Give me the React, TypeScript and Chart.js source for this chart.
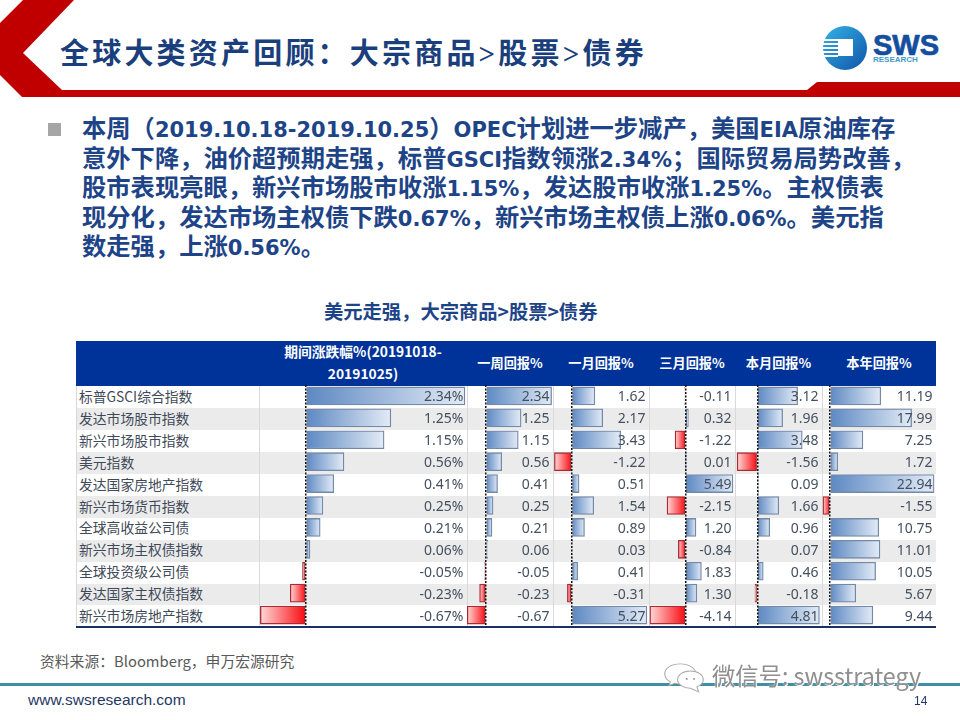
import React, { useEffect, useRef } from 'react';
import { Chart, registerables } from 'chart.js';

Chart.register(...registerables);

const categories = [
  '标普GSCI综合指数', '发达市场股市指数', '新兴市场股市指数', '美元指数', '发达国家房地产指数', '新兴市场货币指数',
  '全球高收益公司债', '新兴市场主权债指数', '全球投资级公司债', '发达国家主权债指数', '新兴市场房地产指数',
];
const periodChange = [2.34, 1.25, 1.15, 0.56, 0.41, 0.25, 0.21, 0.06, -0.05, -0.23, -0.67];
const weekReturn = [2.34, 1.25, 1.15, 0.56, 0.41, 0.25, 0.21, 0.06, -0.05, -0.23, -0.67];
const monthReturn = [1.62, 2.17, 3.43, -1.22, 0.51, 1.54, 0.89, 0.03, 0.41, -0.31, 5.27];
const threeMonthReturn = [-0.11, 0.32, -1.22, 0.01, 5.49, -2.15, 1.2, -0.84, 1.83, 1.3, -4.14];
const thisMonthReturn = [3.12, 1.96, 3.48, -1.56, 0.09, 1.66, 0.96, 0.07, 0.46, -0.18, 4.81];
const thisYearReturn = [11.19, 17.99, 7.25, 1.72, 22.94, -1.55, 10.75, 11.01, 10.05, 5.67, 9.44];

const bodyLines = [
  '本周（2019.10.18-2019.10.25）OPEC计划进一步减产，美国EIA原油库存',
  '意外下降，油价超预期走强，标普GSCI指数领涨2.34%；国际贸易局势改善，',
  '股市表现亮眼，新兴市场股市收涨1.15%，发达股市收涨1.25%。主权债表',
  '现分化，发达市场主权债下跌0.67%，新兴市场主权债上涨0.06%。美元指',
  '数走强，上涨0.56%。',
];

const NAVY = '#1E4488';
const CJK = '"Noto Sans CJK SC", sans-serif';
const TABLE_TOP = 386;
const ROW_H = 21.95;

// left/right = cell edges in px, min/max = axis range so the zero line lands where it does in the slide
const columns = [
  { title: ['期间涨跌幅%(20191018-', '20191025)'], values: periodChange, left: 259, right: 467, min: -0.69, max: 2.37, suffix: '%' },
  { title: ['一周回报%'], values: weekReturn, left: 467, right: 553, min: -0.68, max: 2.39, suffix: '' },
  { title: ['一月回报%'], values: monthReturn, left: 553, right: 649, min: -1.32, max: 5.42, suffix: '' },
  { title: ['三月回报%'], values: threeMonthReturn, left: 649, right: 735, min: -4.24, max: 5.72, suffix: '' },
  { title: ['本月回报%'], values: thisMonthReturn, left: 735, right: 822, min: -1.73, max: 5.01, suffix: '' },
  { title: ['本年回报%'], values: thisYearReturn, left: 822, right: 936, min: -1.76, max: 23.36, suffix: '' },
];

const barFill = (c: any) => {
  const scale = c.chart.scales.x;
  const v = c.raw;
  if (!scale || typeof v !== 'number') return '#6F94C8';
  const x0 = scale.getPixelForValue(0);
  const x1 = scale.getPixelForValue(v);
  // first pass runs before the scale has a size
  if (!Number.isFinite(x0) || !Number.isFinite(x1)) return '#6F94C8';
  const g = c.chart.ctx.createLinearGradient(x0, 0, x1, 0);
  if (v >= 0) {
    g.addColorStop(0, '#5C88C2');
    g.addColorStop(1, '#E3EBF6');
  } else {
    g.addColorStop(0, '#F80A0F');
    g.addColorStop(1, '#FFD8D8');
  }
  return g;
};

const DataBars: React.FC<{ values: number[]; left: number; right: number; min: number; max: number }> = ({ values, left, right, min, max }) => {
  const ref = useRef<HTMLCanvasElement>(null);

  useEffect(() => {
    if (!ref.current) return;
    const chart = new Chart(ref.current, {
      type: 'bar',
      data: {
        labels: categories,
        datasets: [
          {
            data: values,
            backgroundColor: barFill,
            borderColor: (c: any) => (c.raw < 0 ? '#A92A33' : '#7389A8'),
            borderWidth: 1.3,
            borderSkipped: false,
            barThickness: 18,
          },
        ],
      },
      options: {
        indexAxis: 'y',
        responsive: false,
        animation: false,
        layout: { padding: 0 },
        plugins: { legend: { display: false }, tooltip: { enabled: false } },
        scales: {
          y: { display: false },
          x: {
            min,
            max,
            afterBuildTicks: (axis: any) => {
              axis.ticks = [{ value: 0 }];
            },
            ticks: { display: false },
            border: { display: false, dash: [2, 1.5] },
            grid: { color: '#111111', lineWidth: 1.5, drawTicks: false, z: 1 },
          },
        },
      },
    });
    return () => chart.destroy();
  }, []);

  return (
    <canvas
      ref={ref}
      width={right - left}
      height={Math.round(ROW_H * categories.length)}
      style={{ position: 'absolute', left, top: TABLE_TOP - 1, display: 'block' }}
    />
  );
};

const text = (left: number, top: number, style: React.CSSProperties = {}): React.CSSProperties => ({
  position: 'absolute',
  left,
  top,
  whiteSpace: 'nowrap',
  ...style,
});

const Logo = () => (
  <svg width="960" height="100" style={{ position: 'absolute', left: 0, top: 0 }}>
    <defs>
      <linearGradient id="disc" x1="0" y1="0" x2="1" y2="1">
        <stop offset="0" stopColor="#35B2E6" />
        <stop offset="1" stopColor="#0F55A8" />
      </linearGradient>
    </defs>
    <polygon points="0,23 23,0 74,0 23,53 62,90 807,90 817,82 960,82 960,97 22,97 0,75" fill="#C00000" />
    <circle cx="845" cy="48" r="22" fill="url(#disc)" />
    <rect x="838" y="39" width="15" height="17" fill="#FFFFFF" />
    {[39, 43, 47, 51, 55].map((y) => (
      <rect key={y} x="823" y={y} width="15" height="2" fill="#FFFFFF" />
    ))}
  </svg>
);

const WeChatIcon = () => (
  <svg width="44" height="33" viewBox="0 0 48 46" preserveAspectRatio="none" style={{ position: 'absolute', left: 662, top: 661 }}>
    <path d="M20 4 C9 4 3 11 3 18 C3 23 6 27 9 29 L8 34 L14 31 C16 32 18 32 20 32 C30 32 37 25 37 18 C37 11 30 4 20 4 Z" fill="#FFFFFF" stroke="#AAAAAA" strokeWidth="1.2" />
    <path d="M31 14 C22 14 17 20 17 26 C17 32 23 38 31 38 L40 43 L38 36 C42 34 45 30 45 26 C45 20 40 14 31 14 Z" fill="#FFFFFF" stroke="#AAAAAA" strokeWidth="1.2" />
    <circle cx="27" cy="25" r="1.2" fill="#999999" />
    <circle cx="35" cy="25" r="1.2" fill="#999999" />
  </svg>
);

const App: React.FC = () => {
  return (
    <div style={{ position: 'absolute', left: 0, top: 0, width: 960, height: 720, background: '#FFFFFF', overflow: 'hidden', fontFamily: CJK }}>
      <Logo />
      <div style={text(60, 35, { fontFamily: '"Liberation Serif", "Noto Sans CJK SC"', fontWeight: 700, fontSize: 29, letterSpacing: 3.2, color: '#1B3F7C', lineHeight: '38px' })}>
        全球大类资产回顾：大宗商品&gt;股票&gt;债券
      </div>
      <div style={text(873, 28, { fontFamily: '"Liberation Sans"', fontWeight: 700, fontSize: 29, lineHeight: '34px', color: '#144E9E', WebkitTextStroke: '0.7px #144E9E' })}>SWS</div>
      <div style={text(873, 55, { fontFamily: '"Liberation Sans"', fontWeight: 700, fontSize: 8, lineHeight: '10px', color: '#3F9BC8' })}>RESEARCH</div>

      <div style={{ position: 'absolute', left: 48, top: 123, width: 13, height: 13, background: '#A6A6A6' }} />
      {bodyLines.map((line, i) => (
        <div key={i} style={text(82, 114 + i * 29.6, { fontFamily: '"DejaVu Sans", "Noto Sans CJK SC"', fontWeight: 700, fontSize: 21, lineHeight: '30px', color: NAVY })}>
          {/* CJK runs sit larger than the latin runs on this slide */}
          {line.split(/([\x00-\x7f]+)/).map((run, j) => (
            <span key={j} style={{ fontSize: j % 2 ? 21 : 24.3 }}>{run}</span>
          ))}
        </div>
      ))}

      <div style={text(324, 299, { fontWeight: 700, fontSize: 19.3, lineHeight: '24px', color: NAVY })}>美元走强，大宗商品&gt;股票&gt;债券</div>

      {/* table background */}
      <div style={{ position: 'absolute', left: 76, top: 341, width: 860, height: 45, background: '#003399' }} />
      {categories.map((_, i) => (
        <div key={i} style={{ position: 'absolute', left: 76, top: TABLE_TOP + i * ROW_H, width: 860, height: ROW_H, background: i % 2 ? '#EBEBEB' : '#FFFFFF' }} />
      ))}
      {[76, ...columns.map((c) => c.left)].map((x) => (
        <div key={x} style={{ position: 'absolute', left: x, top: TABLE_TOP, width: 1, height: ROW_H * categories.length, background: '#D9D9D9' }} />
      ))}
      <div style={{ position: 'absolute', left: 76, top: 626, width: 860, height: 2, background: '#1B2F66' }} />

      {columns.map((c) => (
        <DataBars key={c.left} values={c.values} left={c.left} right={c.right} min={c.min} max={c.max} />
      ))}

      {/* table text goes over the bars */}
      {columns.map((c) => (
        <div key={c.left} style={{ position: 'absolute', left: c.left, width: c.right - c.left, top: c.title.length > 1 ? 340 : 352, textAlign: 'center', color: '#FFFFFF', fontWeight: 700, fontSize: c.title.length > 1 ? 13.8 : 13.2, lineHeight: '22px' }}>
          {c.title.map((t) => (
            <div key={t} style={{ whiteSpace: 'nowrap' }}>{t}</div>
          ))}
        </div>
      ))}
      {categories.map((name, i) => (
        <div key={name} style={text(79, TABLE_TOP + i * 21.9 - 1, { fontSize: 13.8, lineHeight: '22px', color: '#3F4A59' })}>{name}</div>
      ))}
      {columns.map((c) =>
        c.values.map((v, i) => (
          <div
            key={c.left + '-' + i}
            style={{ position: 'absolute', top: TABLE_TOP + i * ROW_H - 1, left: c.left, width: c.right - c.left - 3.5, textAlign: 'right', fontFamily: '"Noto Sans"', fontSize: 14, lineHeight: '22px', color: '#44505F' }}
          >
            {v.toFixed(2) + c.suffix}
          </div>
        )),
      )}

      <div style={text(40, 652, { fontSize: 14.8, lineHeight: '18px', color: '#595959' })}>资料来源：Bloomberg，申万宏源研究</div>
      <div style={{ position: 'absolute', left: 0, top: 683, width: 960, height: 3, background: '#3F8FA3' }} />
      <WeChatIcon />
      <div style={text(712, 660, { fontSize: 23.3, lineHeight: '30px', color: '#8F8F8F', textShadow: '0 0 2px #FFFFFF, 1px 1px 0 #FFFFFF' })}>微信号: swsstrategy</div>
      <div style={text(28, 691, { fontFamily: '"Liberation Sans"', fontSize: 15.5, lineHeight: '18px', color: '#1F3864' })}>www.swsresearch.com</div>
      <div style={text(914, 693, { fontFamily: '"Liberation Sans"', fontSize: 12, lineHeight: '16px', color: '#1F3864' })}>14</div>
    </div>
  );
};

export default App;
